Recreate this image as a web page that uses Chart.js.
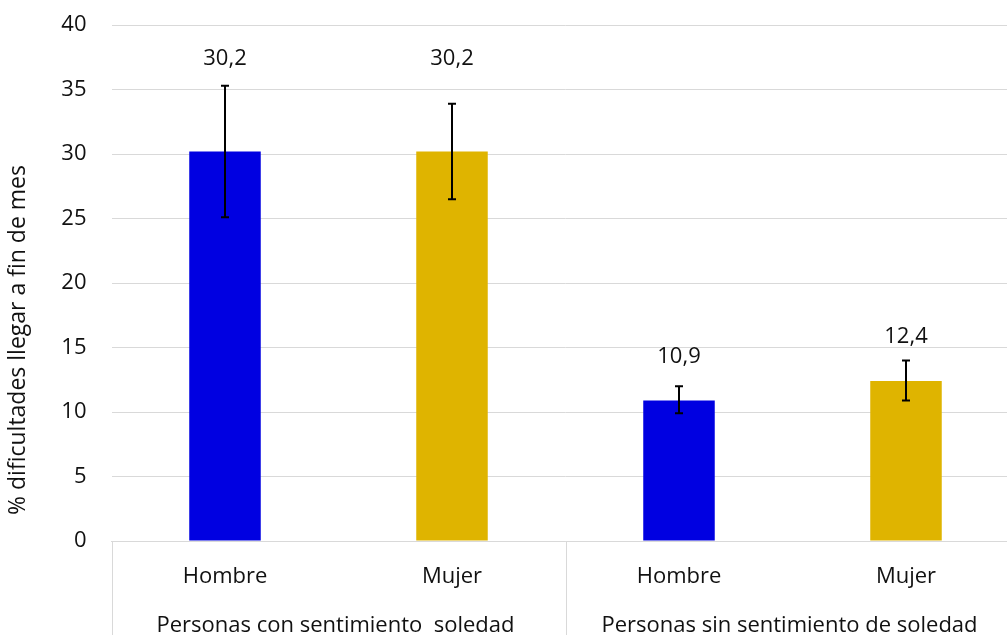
<!DOCTYPE html>
<html lang="es">
<head>
<meta charset="utf-8">
<title>Dificultades para llegar a fin de mes</title>
<script src="https://cdn.jsdelivr.net/npm/chart.js@4.4.1/dist/chart.umd.min.js"></script>
<style>
  html, body { margin: 0; padding: 0; background: #fff; overflow: hidden; }
  /* el área del gráfico sigue un poco más allá del borde derecho, como en la imagen */
  #marco { position: relative; width: 1021px; height: 635px; }
</style>
</head>
<body>
<div id="marco"><canvas id="grafico"></canvas></div>
<script>
// ============================================================
// DATOS
// ============================================================
const categorias = ["Hombre", "Mujer", "Hombre", "Mujer"];
const grupos = ["Personas con sentimiento  soledad", "Personas sin sentimiento de soledad"];
const valores = [30.2, 30.2, 10.9, 12.4];
const errorInferior = [25.1, 26.5, 9.9, 10.9];
const errorSuperior = [35.3, 33.9, 12.0, 14.0];
const etiquetas = ["30,2", "30,2", "10,9", "12,4"];
// altura (en unidades del eje) donde Excel dejó cada etiqueta
const alturaEtiqueta = [37.35, 37.35, 14.25, 15.8];
const colores = ["#0000E1", "#DFB400", "#0000E1", "#DFB400"];
const tituloEjeY = "% dificultades llegar a fin de mes";

const FUENTE = "'Open Sans', 'Segoe UI', sans-serif";
const TEXTO = "#111";
const GRIS = "#d9d9d9";

// ============================================================
// PLUGIN — barras de error, etiquetas, rótulos de grupo y título Y
// ============================================================
const extras = {
  id: "extras",
  afterDatasetsDraw(chart) {
    const ctx = chart.ctx;
    const y = chart.scales.y;
    const barras = chart.getDatasetMeta(0).data;

    ctx.save();
    ctx.strokeStyle = "#000";
    ctx.lineWidth = 2;
    barras.forEach((barra, i) => {
      const yAlto = y.getPixelForValue(errorSuperior[i]);
      const yBajo = y.getPixelForValue(errorInferior[i]);
      ctx.beginPath();
      ctx.moveTo(barra.x, yAlto);
      ctx.lineTo(barra.x, yBajo);
      ctx.moveTo(barra.x - 4, yAlto);
      ctx.lineTo(barra.x + 4, yAlto);
      ctx.moveTo(barra.x - 4, yBajo);
      ctx.lineTo(barra.x + 4, yBajo);
      ctx.stroke();
    });

    ctx.fillStyle = TEXTO;
    ctx.font = "22px " + FUENTE;
    ctx.textAlign = "center";
    ctx.textBaseline = "middle";
    barras.forEach((barra, i) => {
      ctx.fillText(etiquetas[i], barra.x, y.getPixelForValue(alturaEtiqueta[i]));
    });
    ctx.restore();
  },
  afterDraw(chart) {
    const ctx = chart.ctx;
    const x = chart.scales.x;
    const area = chart.chartArea;
    const anchoCat = x.getPixelForValue(1) - x.getPixelForValue(0);

    ctx.save();
    // separadores verticales de los grupos bajo el eje
    ctx.strokeStyle = GRIS;
    ctx.lineWidth = 1;
    const bordes = [0, 2, 4].map((k) => x.getPixelForValue(0) - anchoCat / 2 + k * anchoCat);
    bordes.forEach((bx) => {
      ctx.beginPath();
      ctx.moveTo(Math.round(bx) + 0.5, area.bottom);
      ctx.lineTo(Math.round(bx) + 0.5, chart.height);
      ctx.stroke();
    });

    // rótulos de grupo
    ctx.fillStyle = TEXTO;
    ctx.font = "22px " + FUENTE;
    ctx.textAlign = "center";
    ctx.textBaseline = "alphabetic";
    grupos.forEach((g, k) => {
      const cx = (x.getPixelForValue(2 * k) + x.getPixelForValue(2 * k + 1)) / 2;
      ctx.fillText(g, cx - 3, area.bottom + 91);
    });

    // título del eje Y
    ctx.font = "23px " + FUENTE;
    ctx.translate(18, 340);
    ctx.rotate(-Math.PI / 2);
    ctx.textBaseline = "middle";
    ctx.fillText(tituloEjeY, 0, 0);
    ctx.restore();
  },
};

// ============================================================
// GRÁFICO
// ============================================================
new Chart(document.getElementById("grafico"), {
  type: "bar",
  data: {
    labels: categorias,
    datasets: [{
      data: valores,
      backgroundColor: colores,
      borderWidth: 0,
      categoryPercentage: 1,
      barPercentage: 0.315,
    }],
  },
  options: {
    responsive: true,
    maintainAspectRatio: false,
    animation: false,
    layout: { padding: { top: 25, right: 1.5, left: 0, bottom: 0 } },
    plugins: { legend: { display: false }, tooltip: { enabled: false } },
    scales: {
      x: {
        grid: { display: false, drawTicks: false },
        border: { display: true, color: GRIS, width: 1 },
        ticks: { color: TEXTO, font: { family: FUENTE, size: 22 }, padding: 23, maxRotation: 0 },
        afterFit(scale) { scale.height = 94; },
      },
      y: {
        min: 0,
        max: 40,
        ticks: { stepSize: 5, color: TEXTO, font: { family: FUENTE, size: 22 }, padding: 0 },
        // marcas invisibles: sólo sirven para separar los números del área
        grid: { color: GRIS, lineWidth: 1, drawTicks: true, tickLength: 25, tickColor: "rgba(0,0,0,0)" },
        border: { display: false },
        afterFit(scale) { scale.width = 111.5; },
      },
    },
  },
  plugins: [extras],
});
</script>
</body>
</html>
